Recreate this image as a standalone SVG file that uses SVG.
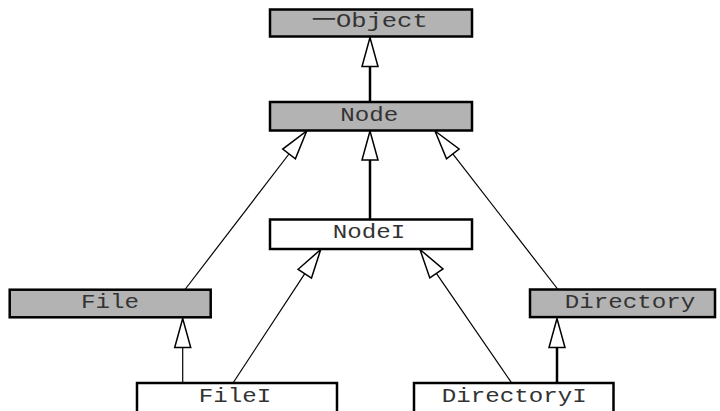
<svg xmlns="http://www.w3.org/2000/svg" width="720" height="411" viewBox="0 0 720 411">
  <style>
    .box { stroke: #000; stroke-width: 2.5; }
    .abstract { fill: #b3b3b3; }
    .impl { fill: #fff; }
    .label { font-family: "Liberation Mono", "Noto Sans CJK SC", monospace; font-size: 21px; fill: #333; text-anchor: middle; }
    .cjk { font-family: "Noto Sans CJK SC", sans-serif; font-size: 20px; }
    .thin { stroke: #000; stroke-width: 1.2; fill: none; }
    .thick { stroke: #000; stroke-width: 2.5; fill: none; }
    .head { fill: #fff; stroke: #000; stroke-width: 1.5; stroke-linejoin: miter; }
  </style>
  <rect width="720" height="411" fill="#fff"/>

  <!-- generalization connectors: line plus hollow triangle at the parent -->
  <g id="connectors">
    <!-- Node -> Object -->
    <line class="thick" x1="370" y1="102" x2="370" y2="66.5"/>
    <polygon class="head" points="370,37.5 362,66.5 378,66.5"/>
    <!-- NodeI -> Node -->
    <line class="thick" x1="370" y1="219.5" x2="370" y2="160"/>
    <polygon class="head" points="370,131 362,160 378,160"/>
    <!-- File -> Node -->
    <line class="thin" x1="185" y1="289.5" x2="289" y2="154"/>
    <polygon class="head" points="306.7,131 295.4,158.9 282.7,149.1"/>
    <!-- Directory -> Node -->
    <line class="thin" x1="558" y1="289.5" x2="452.8" y2="153.9"/>
    <polygon class="head" points="435,131 459.1,149 446.5,158.8"/>
    <!-- FileI -> File -->
    <line class="thin" x1="182.7" y1="383" x2="182.7" y2="347.5"/>
    <polygon class="head" points="182.7,318.5 174.7,347.5 190.7,347.5"/>
    <!-- FileI -> NodeI -->
    <line class="thin" x1="233" y1="383" x2="304.8" y2="273.7"/>
    <polygon class="head" points="320.7,249.5 311.5,278.1 298.1,269.3"/>
    <!-- DirectoryI -> NodeI -->
    <line class="thin" x1="511.7" y1="383" x2="436.4" y2="273.4"/>
    <polygon class="head" points="420,249.5 443,268.9 429.8,277.9"/>
    <!-- DirectoryI -> Directory -->
    <line class="thick" x1="557" y1="383" x2="557" y2="347.5"/>
    <polygon class="head" points="557,318.5 549,347.5 565,347.5"/>
  </g>

  <g id="object">
    <rect class="box abstract" x="270" y="9.5" width="202" height="27"/>
    <text class="label" x="369.7" y="27" textLength="116" lengthAdjust="spacingAndGlyphs"><tspan class="cjk">一</tspan>Object</text>
  </g>
  <g id="node">
    <rect class="box abstract" x="270" y="102" width="202" height="28.5"/>
    <text class="label" x="369.2" y="120.7" textLength="58" lengthAdjust="spacingAndGlyphs">Node</text>
  </g>
  <g id="nodeI">
    <rect class="box impl" x="270" y="219.5" width="202" height="29.5"/>
    <text class="label" x="369" y="237.5" textLength="72.5" lengthAdjust="spacingAndGlyphs">NodeI</text>
  </g>
  <g id="file">
    <rect class="box abstract" x="9.7" y="289.7" width="201" height="27.6"/>
    <text class="label" x="110" y="307.5" textLength="58" lengthAdjust="spacingAndGlyphs">File</text>
  </g>
  <g id="directory">
    <rect class="box abstract" x="530" y="289.5" width="185" height="27.6"/>
    <text class="label" x="630" y="307.5" textLength="130.5" lengthAdjust="spacingAndGlyphs">Directory</text>
  </g>
  <g id="fileI">
    <rect class="box impl" x="137" y="383" width="200" height="40"/>
    <text class="label" x="235" y="401.7" textLength="72.5" lengthAdjust="spacingAndGlyphs">FileI</text>
  </g>
  <g id="directoryI">
    <rect class="box impl" x="414" y="383" width="199.5" height="40"/>
    <text class="label" x="514.2" y="401.7" textLength="145" lengthAdjust="spacingAndGlyphs">DirectoryI</text>
  </g>
</svg>
